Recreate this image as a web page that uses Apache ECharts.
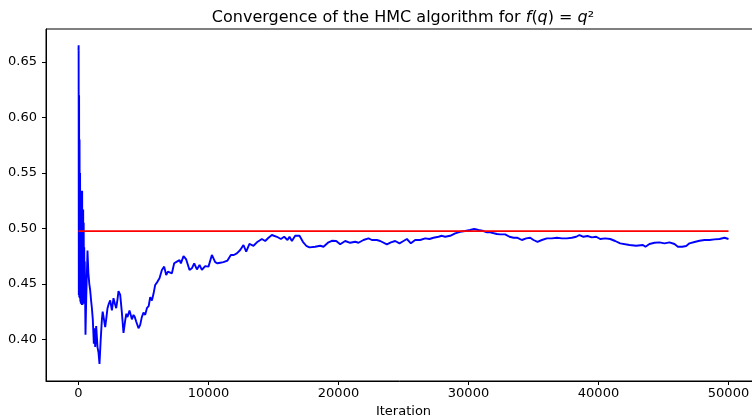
<!DOCTYPE html>
<html>
<head>
<meta charset="utf-8">
<script src="https://cdn.jsdelivr.net/npm/echarts@6/dist/echarts.min.js"></script>
<style>
  html, body { margin: 0; padding: 0; background: #fff; }
  #chart { width: 752px; height: 416px; }
</style>
</head>
<body>
<div id="chart"></div>
<script>
// running mean of q^2, iteration -> value
const iterations = [
  0, 10, 25, 45, 60, 80, 100, 120, 140, 160, 180, 200, 220, 240, 260, 280, 300, 320, 340, 360,
  380, 400, 420, 440, 460, 480, 500, 538, 600, 692, 760, 830, 900, 960, 1031, 1100, 1180, 1230,
  1285, 1361, 1461, 1540, 1615, 1700, 1800, 1860, 1923, 2054, 2150, 2231, 2330, 2438, 2569, 2692,
  2800, 2900, 3000, 3077, 3208, 3330, 3461, 3592, 3680, 3769, 3923, 4108, 4231, 4330, 4438, 4615,
  4746, 4870, 5000, 5130, 5260, 5400, 5515, 5645, 5770, 5900, 6080, 6230, 6415, 6590, 6745, 6880,
  7000, 7185, 7360, 7570, 7770, 7875, 8080, 8285, 8540, 8720, 8900, 9110, 9310, 9490, 9745, 10000,
  10260, 10515, 10690, 10900, 11150, 11460, 11720, 11950, 12180, 12440, 12690, 12900, 13150, 13461,
  13723, 14107, 14361, 14615, 14876, 15261, 15569, 15822, 16076, 16230, 16415, 16668, 17000, 17261,
  17515, 17769, 18207, 18592, 18846, 19230, 19492, 19823, 20130, 20515, 20899, 21284, 21538, 21922,
  22307, 22569, 22953, 23207, 23722, 24030, 24361, 24692, 25000, 25261, 25569, 25899, 26284, 26669,
  26999, 27307, 27692, 27953, 28207, 28592, 28976, 29361, 29746, 30130, 30438, 30769, 31153, 31415,
  31668, 31799, 32184, 32438, 32822, 33153, 33461, 33769, 34107, 34438, 34745, 35000, 35307, 35645,
  36030, 36415, 36799, 37184, 37568, 37953, 38284, 38538, 38845, 39153, 39491, 39822, 40130, 40514,
  40899, 41284, 41668, 42384, 42899, 43414, 43614, 43922, 44307, 44691, 45076, 45460, 45845, 46107,
  46437, 46745, 46999, 47384, 47768, 48153, 48537, 48922, 49307, 49691, 50000
];
const runningMean = [
  0.660, 0.665, 0.440, 0.620, 0.438, 0.580, 0.437, 0.550, 0.434, 0.534, 0.432, 0.534, 0.432, 0.525, 0.431, 0.534, 0.431, 0.517, 0.432, 0.517,
  0.432, 0.505, 0.436, 0.483, 0.445, 0.470, 0.450, 0.404, 0.440, 0.480, 0.460, 0.450, 0.444, 0.436, 0.428, 0.418, 0.396, 0.410,
  0.393, 0.412, 0.393, 0.388, 0.3777, 0.398, 0.418, 0.425, 0.424, 0.411, 0.420, 0.428, 0.432, 0.435, 0.426, 0.437,
  0.432, 0.428, 0.436, 0.4435, 0.440, 0.425, 0.4057, 0.417, 0.423, 0.420, 0.426, 0.418, 0.422, 0.420, 0.416, 0.410,
  0.413, 0.420, 0.424, 0.422, 0.428, 0.430, 0.438, 0.435, 0.441, 0.449, 0.452, 0.455, 0.4625, 0.4655, 0.458, 0.461,
  0.4625, 0.4595, 0.4685, 0.470, 0.4714, 0.4685, 0.475, 0.472, 0.4625, 0.464, 0.4685, 0.463, 0.467, 0.4625, 0.466, 0.4655,
  0.476, 0.4695, 0.4685, 0.469, 0.4695, 0.471, 0.476, 0.476, 0.4775, 0.4805, 0.485, 0.479, 0.4859, 0.4843,
  0.4874, 0.4904, 0.4886, 0.4915, 0.4940, 0.4924, 0.4904, 0.4924, 0.4895, 0.4924, 0.4886, 0.4933, 0.4933, 0.4879,
  0.4843, 0.4829, 0.4834, 0.4843, 0.4834, 0.4874, 0.4888, 0.4886, 0.4856, 0.4886, 0.4870, 0.4879, 0.4870, 0.4895,
  0.4910, 0.4895, 0.4895, 0.4886, 0.4856, 0.4874, 0.4886, 0.4865, 0.4886, 0.4904, 0.4865, 0.4895, 0.4895, 0.4910,
  0.4904, 0.4915, 0.4924, 0.4933, 0.4924, 0.4933, 0.4955, 0.4969, 0.4976, 0.4985, 0.4994, 0.4985, 0.4976, 0.4964,
  0.4964, 0.4955, 0.4949, 0.4946, 0.4946, 0.4924, 0.4915, 0.4915, 0.4895, 0.4910, 0.4915, 0.4895, 0.4879, 0.4895,
  0.4910, 0.4910, 0.4915, 0.4910, 0.4910, 0.4915, 0.4924, 0.4940, 0.4924, 0.4931, 0.4919, 0.4924, 0.4904, 0.4910,
  0.4904, 0.4886, 0.4865, 0.4850, 0.4843, 0.4850, 0.4834, 0.4859, 0.4870, 0.4874, 0.4865, 0.4874, 0.4859, 0.4834,
  0.4834, 0.4841, 0.4865, 0.4877, 0.4888, 0.4895, 0.4895, 0.4901, 0.4904, 0.4915, 0.4904
];
const targetValue = 0.4975;
const targetRange = [0, 50000];

const xTicks = [0, 10000, 20000, 30000, 40000, 50000];
const yTicks = [0.40, 0.45, 0.50, 0.55, 0.60, 0.65];

const FONT = 'DejaVu Sans';

const chart = echarts.init(document.getElementById('chart'), null, { renderer: 'canvas' });

chart.setOption({
  animation: false,
  backgroundColor: '#fff',
  title: {
    text: '{n|Convergence of the HMC algorithm for }{i|f}{n|(}{i|q}{n|) = }{i|q}{n|²}',
    left: 398,
    top: 5,
    textAlign: 'center',
    textStyle: {
      fontWeight: 'normal',
      rich: {
        n: { fontFamily: FONT, fontSize: 16, fontWeight: 'normal', color: '#000' },
        i: { fontFamily: FONT, fontSize: 16, fontWeight: 'normal', fontStyle: 'italic', color: '#000' }
      }
    }
  },
  grid: {
    left: 46, top: 29, width: 715, height: 352,
    outerBoundsMode: 'none',
    show: true, borderColor: '#000', borderWidth: 1
  },
  xAxis: {
    type: 'value',
    min: -2500, max: 52500,
    name: 'Iteration',
    nameLocation: 'middle',
    nameGap: 23,
    nameTextStyle: { fontFamily: FONT, fontSize: 13, color: '#000' },
    axisLine: { show: true, onZero: false, lineStyle: { color: '#000', width: 1 } },
    axisTick: { show: true, length: 4, lineStyle: { color: '#000' }, customValues: xTicks },
    axisLabel: { fontFamily: FONT, fontSize: 13, color: '#000', margin: 6, customValues: xTicks,
      formatter: v => String(v) },
    splitLine: { show: false }
  },
  yAxis: {
    type: 'value',
    min: 0.3624, max: 0.6797,
    axisLine: { show: true, onZero: false, lineStyle: { color: '#000', width: 1 } },
    axisTick: { show: true, length: 4, lineStyle: { color: '#000' }, customValues: yTicks },
    axisLabel: { fontFamily: FONT, fontSize: 13, color: '#000', margin: 9, customValues: yTicks,
      formatter: v => v.toFixed(2) },
    splitLine: { show: false }
  },
  series: [
    {
      type: 'line',
      data: iterations.map((it, i) => [it, runningMean[i]]),
      showSymbol: false,
      lineStyle: { color: '#0000ff', width: 1.9 },
      z: 2
    },
    {
      type: 'line',
      data: targetRange.map(it => [it, targetValue]),
      showSymbol: false,
      lineStyle: { color: '#ff0000', width: 1.8 },
      z: 3
    }
  ]
});
</script>
</body>
</html>
